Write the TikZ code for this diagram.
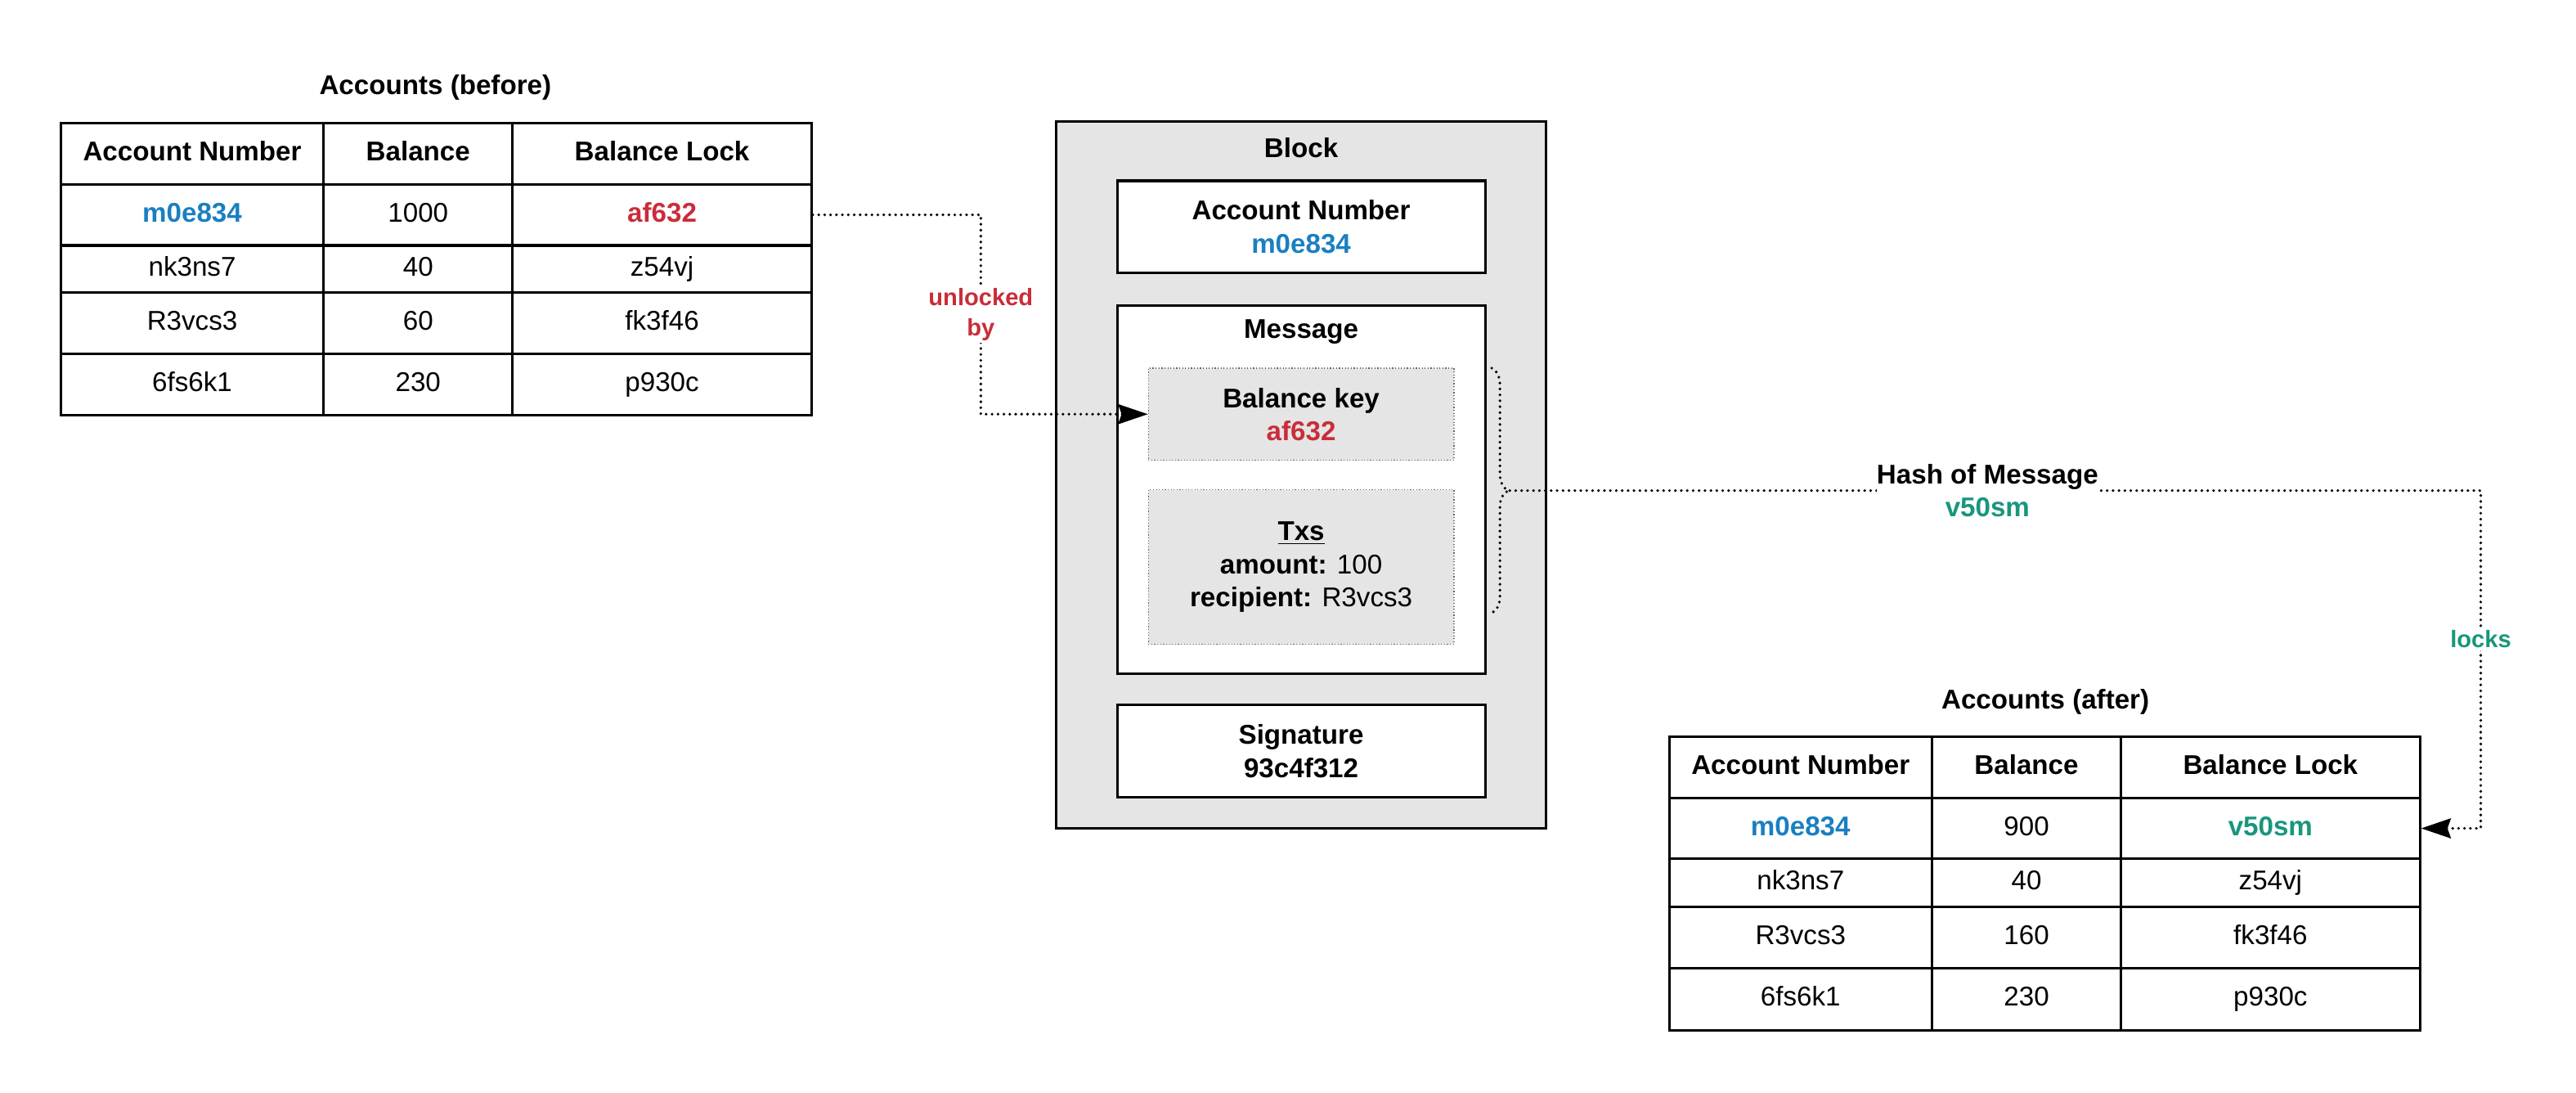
\documentclass[tikz,border=0pt]{standalone}
\usepackage{fontspec}
\setmainfont{Liberation Sans}
\usetikzlibrary{arrows.meta,decorations.pathreplacing}

\definecolor{acctblue}{HTML}{1A7FC1}
\definecolor{lockred}{HTML}{C92D39}
\definecolor{hashgreen}{HTML}{19967D}
\definecolor{blockgray}{HTML}{E5E5E5}

\newcommand{\txtsize}{\fontsize{16.5}{20}\selectfont}
\newcommand{\lblsize}{\fontsize{14.5}{18}\selectfont}
\tikzstyle{cell}=[draw,line width=1.5pt,inner sep=0pt,text height=12pt,text depth=3.5pt,font=\txtsize]
\tikzstyle{title}=[font=\txtsize\bfseries]
\tikzstyle{blockbox}=[draw,fill=blockgray,line width=1.5pt,minimum width=298pt,minimum height=430pt]
\tikzstyle{field}=[draw,fill=white,line width=1.5pt,minimum width=224pt,minimum height=56pt,align=center,font=\txtsize]
\tikzstyle{part}=[draw=black!60,fill=blockgray,line width=0.6pt,dash pattern=on 0.6pt off 1.2pt,minimum width=186pt,align=center,font=\txtsize]
\tikzstyle{link}=[draw,line width=1.8pt,line cap=round,dash pattern=on 0pt off 3.6pt]
\tikzstyle{lockarrow}=[-{Stealth[length=18pt,width=12pt,inset=2pt]}]
\tikzstyle{linklabel}=[fill=white,inner sep=1.5pt,align=center,font=\lblsize\bfseries]

\begin{document}
\begin{tikzpicture}[x=1pt, y=-1pt]
    \useasboundingbox (0,0) rectangle (1568,665);
    % First we draw the accounts before the block
    \node[title] (beforetitle) at (265,53) {Accounts (before)};
    \foreach \y/\h/\r/\acc/\bal/\lock in {
        93.4/37.3/0/{\textbf{Account Number}}/{\textbf{Balance}}/{\textbf{Balance Lock}},
        130.7/37.3/1/{\textbf{\color{acctblue}m0e834}}/1000/{\textbf{\color{lockred}af632}},
        163.7/28.9/2/nk3ns7/40/z54vj,
        196.8/37.3/3/R3vcs3/60/fk3f46,
        234.1/37.3/4/6fs6k1/230/p930c}
    {
        \node[cell,minimum width=160pt,minimum height=\h pt] (b\r1) at (117,\y) {\acc};
        \node[cell,minimum width=115pt,minimum height=\h pt] (b\r2) at (254.5,\y) {\bal};
        \node[cell,minimum width=182pt,minimum height=\h pt] (b\r3) at (403,\y) {\lock};
    }
    % Then the accounts after the block
    \node[title] (aftertitle) at (1245,427) {Accounts (after)};
    \foreach \y/\h/\r/\acc/\bal/\lock in {
        466.9/37.2/0/{\textbf{Account Number}}/{\textbf{Balance}}/{\textbf{Balance Lock}},
        504.0/37.2/1/{\textbf{\color{acctblue}m0e834}}/900/{\textbf{\color{hashgreen}v50sm}},
        537.3/29.4/2/nk3ns7/40/z54vj,
        570.5/37.2/3/R3vcs3/160/fk3f46,
        607.9/37.6/4/6fs6k1/230/p930c}
    {
        \node[cell,minimum width=160pt,minimum height=\h pt] (a\r1) at (1096,\y) {\acc};
        \node[cell,minimum width=115pt,minimum height=\h pt] (a\r2) at (1233.5,\y) {\bal};
        \node[cell,minimum width=182pt,minimum height=\h pt] (a\r3) at (1382,\y) {\lock};
    }
    % The block with its fields
    \node[blockbox] (block) at (792,289) {};
    \node[title] (blocktitle) at (792,90) {Block};
    \node[field] (acctfield) at (792,138) {\textbf{Account Number}\\\textbf{\color{acctblue}m0e834}};
    \node[field,minimum height=224pt] (msgfield) at (792,298) {};
    \node[title] (msgtitle) at (792,202) {Message};
    \node[part,minimum height=56pt] (keypart) at (792,252) {\textbf{Balance key}\\\textbf{\color{lockred}af632}};
    \node[part,minimum height=94pt] (txspart) at (792,345) {\underline{\textbf{Txs}}\\\textbf{amount:} 100\\\textbf{recipient:} R3vcs3};
    \node[field] (sigfield) at (792,457) {\textbf{Signature}\\\textbf{93c4f312}};
    % Connect the balance lock with the balance key
    \coordinate (unlockturn) at (597,0);
    \draw[link,lockarrow] (b13.east) -- (b13.east -| unlockturn)
        -- node[linklabel,text=lockred] (unlock) {unlocked\\by} (keypart.west -| unlockturn)
        -- (keypart.west);
    % Brace round the message and its hash
    \coordinate (bracetop) at (908,224);
    \coordinate (bracebot) at (908,373);
    \coordinate (hashtip) at (919,298.5);
    \coordinate (lockturn) at (1510,298.5);
    \draw[link,decorate,decoration={brace,amplitude=10pt}] (bracetop) -- (bracebot);
    \draw[link,lockarrow] (hashtip)
        -- node[linklabel,font=\txtsize\bfseries,inner sep=0pt,pos=0.492] (hash) {Hash of Message\\\color{hashgreen}v50sm} (lockturn)
        -- node[linklabel,text=hashgreen,pos=0.44] (locks) {locks} (lockturn |- a13.east)
        -- (a13.east);
\end{tikzpicture}
\end{document}
